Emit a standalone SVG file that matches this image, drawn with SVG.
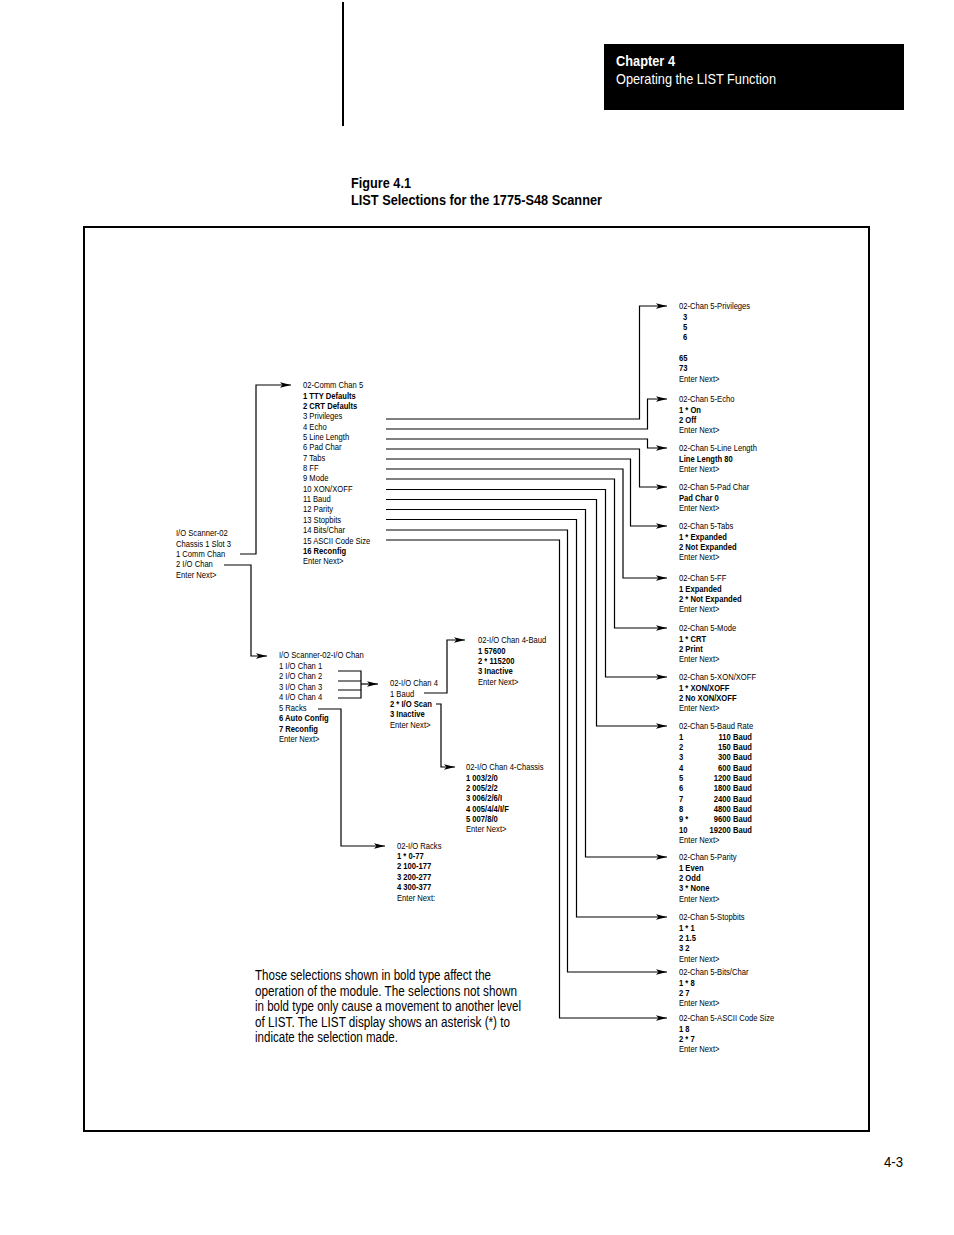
<svg xmlns="http://www.w3.org/2000/svg" width="954" height="1235" viewBox="0 0 954 1235">
<style>
text{font-family:"Liberation Sans",Arial,sans-serif;fill:#000}
.t{font-size:9.3px}
.b{font-size:9.3px;font-weight:bold}
.r{text-anchor:end}
.h{font-size:14.5px}
.p{font-size:14px}
.c{fill:none;stroke:#000;stroke-width:1.2}
</style>
<defs>
<marker id="ah" markerUnits="userSpaceOnUse" markerWidth="12" markerHeight="8" refX="11" refY="4" orient="auto">
<path d="M0,1.3 L11,4 L0,6.7 L2.5,4 z" fill="#000"/>
</marker>
</defs>
<rect width="954" height="1235" fill="#fff"/>
<g id="page">
<line x1="343" y1="2" x2="343" y2="126" stroke="#000" stroke-width="2"/>
<rect x="604" y="44" width="300" height="66" fill="#000"/>
<text x="616" y="66" class="h" font-weight="bold" style="fill:#fff" textLength="59" lengthAdjust="spacingAndGlyphs">Chapter 4</text>
<text x="616" y="84" class="h" style="fill:#fff" textLength="160" lengthAdjust="spacingAndGlyphs">Operating the LIST Function</text>
<text x="351" y="188" class="h" font-weight="bold" textLength="60" lengthAdjust="spacingAndGlyphs">Figure 4.1</text>
<text x="351" y="205" class="h" font-weight="bold" textLength="251" lengthAdjust="spacingAndGlyphs">LIST Selections for the 1775-S48 Scanner</text>
<rect x="84" y="227" width="785" height="904" fill="none" stroke="#000" stroke-width="2"/>
<text x="884" y="1167" class="p" textLength="19" lengthAdjust="spacingAndGlyphs">4-3</text>
</g>
<g id="note">
<text x="255" y="980" class="p" textLength="236" lengthAdjust="spacingAndGlyphs">Those selections shown in bold type affect the</text>
<text x="255" y="996" class="p" textLength="262" lengthAdjust="spacingAndGlyphs">operation of the module.  The selections not shown</text>
<text x="255" y="1011" class="p" textLength="266" lengthAdjust="spacingAndGlyphs">in bold type only cause a movement to another level</text>
<text x="255" y="1027" class="p" textLength="255" lengthAdjust="spacingAndGlyphs">of LIST.  The LIST display shows an asterisk (*) to</text>
<text x="255" y="1042" class="p" textLength="143" lengthAdjust="spacingAndGlyphs">indicate the selection made.</text>
</g>
<g id="connectors">
<path class="c" marker-end="url(#ah)" d="M240,554 H256 V385 H291"/>
<path class="c" marker-end="url(#ah)" d="M224,565 H251 V656 H267"/>
<path class="c" marker-end="url(#ah)" d="M386,419 H639.5 V306 H667"/>
<path class="c" marker-end="url(#ah)" d="M386,429 H647.5 V399 H667"/>
<path class="c" marker-end="url(#ah)" d="M386,439 H647.5 V448 H667"/>
<path class="c" marker-end="url(#ah)" d="M386,449 H639.5 V487 H667"/>
<path class="c" marker-end="url(#ah)" d="M386,459 H630.5 V526 H667"/>
<path class="c" marker-end="url(#ah)" d="M386,469 H623 V578 H667"/>
<path class="c" marker-end="url(#ah)" d="M386,479 H614.5 V628 H667"/>
<path class="c" marker-end="url(#ah)" d="M386,489.5 H605.5 V677 H667"/>
<path class="c" marker-end="url(#ah)" d="M386,499.5 H596.5 V726 H667"/>
<path class="c" marker-end="url(#ah)" d="M386,509.5 H585.5 V857 H667"/>
<path class="c" marker-end="url(#ah)" d="M386,519.5 H576.5 V917 H667"/>
<path class="c" marker-end="url(#ah)" d="M386,530 H567.5 V972 H667"/>
<path class="c" marker-end="url(#ah)" d="M386,540 H559.5 V1018 H667"/>
<path class="c" d="M338,671 H361 M338,681 H361 M338,690 H361 M338,698 H361 M361,670.4 V698.6"/>
<path class="c" marker-end="url(#ah)" d="M361,684 H378"/>
<path class="c" marker-end="url(#ah)" d="M318,709 H341 V846 H385"/>
<path class="c" marker-end="url(#ah)" d="M424,693 H447 V640 H465"/>
<path class="c" marker-end="url(#ah)" d="M436,704 H441 V767 H455"/>
</g>
<g id="scanner" transform="matrix(0.82 0 0 1 31.68 0)">
<text x="176" y="536.3" class="t">I/O Scanner-02</text>
<text x="176" y="546.7" class="t">Chassis 1 Slot 3</text>
<text x="176" y="557" class="t">1 Comm Chan</text>
<text x="176" y="567.4" class="t">2 I/O Chan</text>
<text x="176" y="577.7" class="t">Enter Next&gt;</text>
</g>
<g id="comm-chan" transform="matrix(0.82 0 0 1 54.54 0)">
<text x="303" y="388.3" class="t">02-Comm Chan 5</text>
<text x="303" y="398.7" class="b">1 TTY Defaults</text>
<text x="303" y="409" class="b">2 CRT Defaults</text>
<text x="303" y="419.4" class="t">3 Privileges</text>
<text x="303" y="429.7" class="t">4 Echo</text>
<text x="303" y="440.1" class="t">5 Line Length</text>
<text x="303" y="450.4" class="t">6 Pad Char</text>
<text x="303" y="460.8" class="t">7 Tabs</text>
<text x="303" y="471.1" class="t">8 FF</text>
<text x="303" y="481.5" class="t">9 Mode</text>
<text x="303" y="491.8" class="t">10 XON/XOFF</text>
<text x="303" y="502.2" class="t">11 Baud</text>
<text x="303" y="512.5" class="t">12 Parity</text>
<text x="303" y="522.9" class="t">13 Stopbits</text>
<text x="303" y="533.2" class="t">14 Bits/Char</text>
<text x="303" y="543.6" class="t">15 ASCII Code Size</text>
<text x="303" y="553.9" class="b">16 Reconfig</text>
<text x="303" y="564.3" class="t">Enter Next&gt;</text>
</g>
<g id="io-chan" transform="matrix(0.82 0 0 1 50.22 0)">
<text x="279" y="658.3" class="t">I/O Scanner-02-I/O Chan</text>
<text x="279" y="668.8" class="t">1 I/O Chan 1</text>
<text x="279" y="679.3" class="t">2 I/O Chan 2</text>
<text x="279" y="689.8" class="t">3 I/O Chan 3</text>
<text x="279" y="700.3" class="t">4 I/O Chan 4</text>
<text x="279" y="710.8" class="t">5 Racks</text>
<text x="279" y="721.3" class="b">6 Auto Config</text>
<text x="279" y="731.8" class="b">7 Reconfig</text>
<text x="279" y="742.3" class="t">Enter Next&gt;</text>
</g>
<g id="io-chan4" transform="matrix(0.82 0 0 1 70.2 0)">
<text x="390" y="686.3" class="t">02-I/O Chan 4</text>
<text x="390" y="696.7" class="t">1 Baud</text>
<text x="390" y="707" class="b">2 * I/O Scan</text>
<text x="390" y="717.4" class="b">3 Inactive</text>
<text x="390" y="727.7" class="t">Enter Next&gt;</text>
</g>
<g id="io-chan4-baud" transform="matrix(0.82 0 0 1 86.04 0)">
<text x="478" y="643.3" class="t">02-I/O Chan 4-Baud</text>
<text x="478" y="653.7" class="b">1 57600</text>
<text x="478" y="664" class="b">2 * 115200</text>
<text x="478" y="674.4" class="b">3 Inactive</text>
<text x="478" y="684.7" class="t">Enter Next&gt;</text>
</g>
<g id="io-chan4-chassis" transform="matrix(0.82 0 0 1 83.88 0)">
<text x="466" y="770.3" class="t">02-I/O Chan 4-Chassis</text>
<text x="466" y="780.7" class="b">1 003/2/0</text>
<text x="466" y="791" class="b">2 005/2/2</text>
<text x="466" y="801.4" class="b">3 006/2/6/I</text>
<text x="466" y="811.7" class="b">4 005/4/4/I/F</text>
<text x="466" y="822.1" class="b">5 007/8/0</text>
<text x="466" y="832.4" class="t">Enter Next&gt;</text>
</g>
<g id="io-racks" transform="matrix(0.82 0 0 1 71.46 0)">
<text x="397" y="848.8" class="t">02-I/O Racks</text>
<text x="397" y="859.2" class="b">1 * 0-77</text>
<text x="397" y="869.5" class="b">2 100-177</text>
<text x="397" y="879.9" class="b">3 200-277</text>
<text x="397" y="890.2" class="b">4 300-377</text>
<text x="397" y="900.6" class="t">Enter Next:</text>
</g>
<g id="privileges" transform="matrix(0.82 0 0 1 122.22 0)">
<text x="679" y="309.3" class="t">02-Chan 5-Privileges</text>
<text x="684" y="319.7" class="b">3</text>
<text x="684" y="330" class="b">5</text>
<text x="684" y="340.4" class="b">6</text>
<text x="679" y="361.1" class="b">65</text>
<text x="679" y="371.4" class="b">73</text>
<text x="679" y="381.8" class="t">Enter Next&gt;</text>
</g>
<g id="echo" transform="matrix(0.82 0 0 1 122.22 0)">
<text x="679" y="402.3" class="t">02-Chan 5-Echo</text>
<text x="679" y="412.7" class="b">1 * On</text>
<text x="679" y="423" class="b">2 Off</text>
<text x="679" y="433.4" class="t">Enter Next&gt;</text>
</g>
<g id="line-length" transform="matrix(0.82 0 0 1 122.22 0)">
<text x="679" y="451.3" class="t">02-Chan 5-Line Length</text>
<text x="679" y="461.7" class="b">Line Length 80</text>
<text x="679" y="472" class="t">Enter Next&gt;</text>
</g>
<g id="pad-char" transform="matrix(0.82 0 0 1 122.22 0)">
<text x="679" y="490.3" class="t">02-Chan 5-Pad Char</text>
<text x="679" y="500.7" class="b">Pad Char 0</text>
<text x="679" y="511" class="t">Enter Next&gt;</text>
</g>
<g id="tabs" transform="matrix(0.82 0 0 1 122.22 0)">
<text x="679" y="529.3" class="t">02-Chan 5-Tabs</text>
<text x="679" y="539.7" class="b">1 * Expanded</text>
<text x="679" y="550" class="b">2 Not Expanded</text>
<text x="679" y="560.4" class="t">Enter Next&gt;</text>
</g>
<g id="ff" transform="matrix(0.82 0 0 1 122.22 0)">
<text x="679" y="581.3" class="t">02-Chan 5-FF</text>
<text x="679" y="591.7" class="b">1 Expanded</text>
<text x="679" y="602" class="b">2 * Not Expanded</text>
<text x="679" y="612.4" class="t">Enter Next&gt;</text>
</g>
<g id="mode" transform="matrix(0.82 0 0 1 122.22 0)">
<text x="679" y="631.3" class="t">02-Chan 5-Mode</text>
<text x="679" y="641.7" class="b">1 * CRT</text>
<text x="679" y="652" class="b">2 Print</text>
<text x="679" y="662.4" class="t">Enter Next&gt;</text>
</g>
<g id="xon-xoff" transform="matrix(0.82 0 0 1 122.22 0)">
<text x="679" y="680.3" class="t">02-Chan 5-XON/XOFF</text>
<text x="679" y="690.7" class="b">1 * XON/XOFF</text>
<text x="679" y="701" class="b">2 No XON/XOFF</text>
<text x="679" y="711.4" class="t">Enter Next&gt;</text>
</g>
<g id="baud-rate" transform="matrix(0.82 0 0 1 122.22 0)">
<text x="679" y="729.3" class="t">02-Chan 5-Baud Rate</text>
<text x="679" y="739.7" class="b">1</text><text x="768" y="739.7" class="b r">110 Baud</text>
<text x="679" y="750" class="b">2</text><text x="768" y="750" class="b r">150 Baud</text>
<text x="679" y="760.4" class="b">3</text><text x="768" y="760.4" class="b r">300 Baud</text>
<text x="679" y="770.7" class="b">4</text><text x="768" y="770.7" class="b r">600 Baud</text>
<text x="679" y="781.1" class="b">5</text><text x="768" y="781.1" class="b r">1200 Baud</text>
<text x="679" y="791.4" class="b">6</text><text x="768" y="791.4" class="b r">1800 Baud</text>
<text x="679" y="801.8" class="b">7</text><text x="768" y="801.8" class="b r">2400 Baud</text>
<text x="679" y="812.1" class="b">8</text><text x="768" y="812.1" class="b r">4800 Baud</text>
<text x="679" y="822.5" class="b">9 *</text><text x="768" y="822.5" class="b r">9600 Baud</text>
<text x="679" y="832.8" class="b">10</text><text x="768" y="832.8" class="b r">19200 Baud</text>
<text x="679" y="843.2" class="t">Enter Next&gt;</text>
</g>
<g id="parity" transform="matrix(0.82 0 0 1 122.22 0)">
<text x="679" y="860.3" class="t">02-Chan 5-Parity</text>
<text x="679" y="870.7" class="b">1 Even</text>
<text x="679" y="881" class="b">2 Odd</text>
<text x="679" y="891.4" class="b">3 * None</text>
<text x="679" y="901.7" class="t">Enter Next&gt;</text>
</g>
<g id="stopbits" transform="matrix(0.82 0 0 1 122.22 0)">
<text x="679" y="920.3" class="t">02-Chan 5-Stopbits</text>
<text x="679" y="930.7" class="b">1 * 1</text>
<text x="679" y="941" class="b">2 1.5</text>
<text x="679" y="951.4" class="b">3 2</text>
<text x="679" y="961.7" class="t">Enter Next&gt;</text>
</g>
<g id="bits-char" transform="matrix(0.82 0 0 1 122.22 0)">
<text x="679" y="975.3" class="t">02-Chan 5-Bits/Char</text>
<text x="679" y="985.7" class="b">1 * 8</text>
<text x="679" y="996" class="b">2 7</text>
<text x="679" y="1006.4" class="t">Enter Next&gt;</text>
</g>
<g id="ascii-code-size" transform="matrix(0.82 0 0 1 122.22 0)">
<text x="679" y="1021.3" class="t">02-Chan 5-ASCII Code Size</text>
<text x="679" y="1031.7" class="b">1 8</text>
<text x="679" y="1042" class="b">2 * 7</text>
<text x="679" y="1052.4" class="t">Enter Next&gt;</text>
</g>
</svg>
